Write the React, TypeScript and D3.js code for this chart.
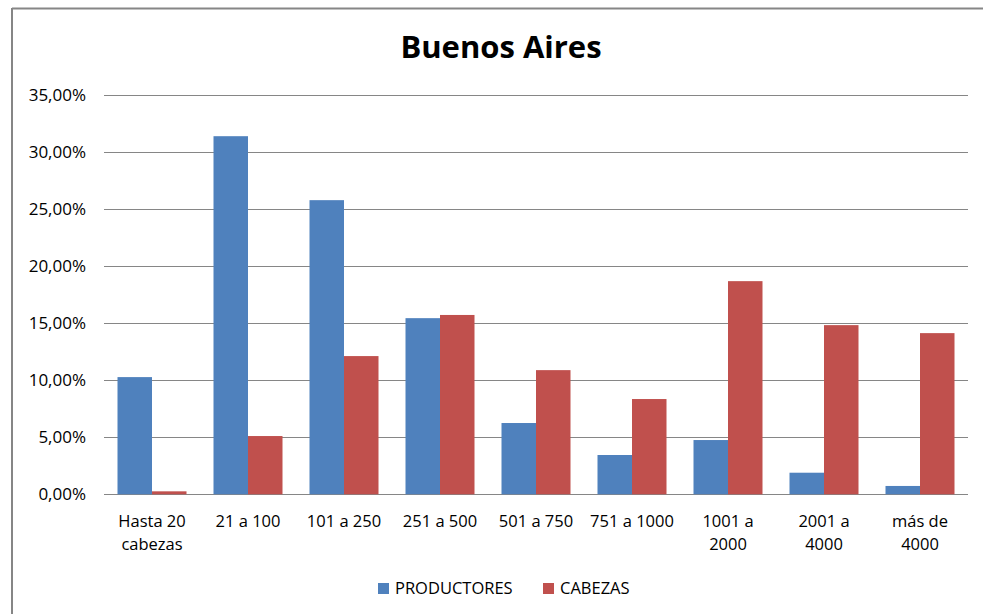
import React from "react";
import * as d3 from "d3";

const title = "Buenos Aires";
const categories = [
  "Hasta 20\ncabezas",
  "21 a 100",
  "101 a 250",
  "251 a 500",
  "501 a 750",
  "751 a 1000",
  "1001 a\n2000",
  "2001 a\n4000",
  "más de\n4000",
];
const seriesNames = ["PRODUCTORES", "CABEZAS"];
const seriesColors = ["#4F81BD", "#C0504D"];
const productores = [10.26, 31.35, 25.75, 15.42, 6.24, 3.44, 4.75, 1.89, 0.73];
const cabezas = [0.26, 5.1, 12.1, 15.7, 10.87, 8.34, 18.66, 14.81, 14.11];
const yTicks = [0, 5, 10, 15, 20, 25, 30, 35];

const W = 983;
const H = 614;
const plot = { left: 104, right: 968, top: 94.5, bottom: 494.3 };
const FONT = "'Open Sans', 'DejaVu Sans', sans-serif";

export default function App() {
  const x = d3
    .scaleBand<number>()
    .domain(categories.map((_, i) => i))
    .range([plot.left, plot.right])
    .paddingInner(0.28125)
    .paddingOuter(0.140625);
  const xs = d3
    .scaleBand<number>()
    .domain([0, 1])
    .range([0, x.bandwidth()]);
  const y = d3.scaleLinear().domain([0, 35]).range([plot.bottom, plot.top]);
  const fmt = (v: number) => v.toFixed(2).replace(".", ",") + "%";
  const series = [productores, cabezas];

  return (
    <svg
      width={W}
      height={H}
      style={{ position: "fixed", left: 0, top: 0, background: "#fff" }}
    >
      <rect x={0} y={0} width={W} height={H} fill="#fff" />
      <line x1={12} x2={W} y1={8.5} y2={8.5} stroke="#868686" strokeWidth={2} />
      <line x1={12} x2={12} y1={8} y2={H} stroke="#868686" strokeWidth={2} />

      <text
        x={501}
        y={57.5}
        textAnchor="middle"
        fontFamily={FONT}
        fontWeight="bold"
        fontSize={31}
        fill="#000"
      >
        {title}
      </text>

      {yTicks.map((t) => (
        <g key={t}>
          <line
            x1={plot.left}
            x2={plot.right}
            y1={Math.round(y(t)) + 0.5}
            y2={Math.round(y(t)) + 0.5}
            stroke="#868686"
            strokeWidth={1}
          />
          <text
            x={86}
            y={y(t)}
            dy="0.36em"
            textAnchor="end"
            fontFamily={FONT}
            fontSize={17}
            fill="#000"
          >
            {fmt(t)}
          </text>
        </g>
      ))}

      {series.map((vals, s) =>
        vals.map((v, i) => (
          <rect
            key={s + "-" + i}
            x={(x(i) as number) + (xs(s) as number)}
            y={y(v)}
            width={xs.bandwidth()}
            height={y(0) - y(v)}
            fill={seriesColors[s]}
          />
        ))
      )}

      {categories.map((c, i) => {
        const cx = (x(i) as number) + x.bandwidth() / 2;
        return (
          <text
            key={c}
            x={cx}
            y={526.5}
            textAnchor="middle"
            fontFamily={FONT}
            fontSize={16.5}
            fill="#000"
          >
            {c.split("\n").map((ln, k) => (
              <tspan key={k} x={cx} dy={k === 0 ? 0 : 23.5}>
                {ln}
              </tspan>
            ))}
          </text>
        );
      })}

      {seriesNames.map((n, s) => {
        const bx = s === 0 ? 378 : 543;
        return (
          <g key={n}>
            <rect x={bx} y={583} width={11} height={11} fill={seriesColors[s]} />
            <text
              x={bx + 17}
              y={594}
              fontFamily={FONT}
              fontSize={16.5}
              fill="#000"
            >
              {n}
            </text>
          </g>
        );
      })}
    </svg>
  );
}
